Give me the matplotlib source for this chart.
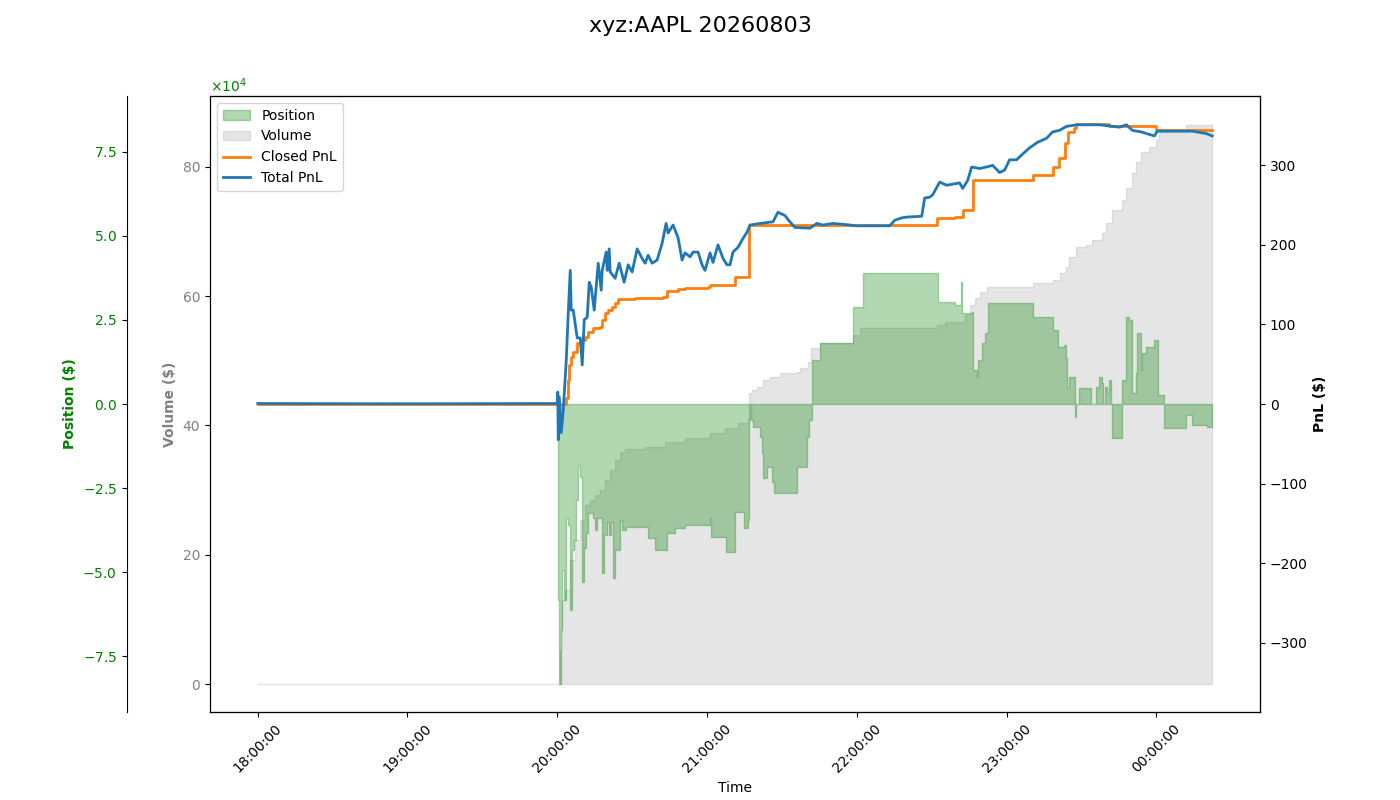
"""
PnL / position / volume overview for a single trading session.
"""

import numpy as np
import pandas as pd
import matplotlib
matplotlib.use("Agg")
import matplotlib.pyplot as plt
import matplotlib.dates as mdates
from matplotlib.patches import Patch
from matplotlib.lines import Line2D

# --- DATA ---
SYMBOL = "xyz:AAPL"
SESSION_DATE = "20260803"
SESSION_START = "2026-08-03 18:00:00"

# minutes since session start
pos_minutes = [
    0.0, 120.0, 120.4, 120.8, 121.6, 122.0, 122.8, 123.6, 124.4, 125.2, 126.0,
    126.8, 127.6, 128.4, 129.2, 130.0, 130.8, 131.6, 132.4, 134.4, 135.2, 136.0,
    138.0, 138.8, 140.0, 140.8, 141.6, 142.4, 143.2, 145.2, 146.0, 147.6, 156.4,
    159.2, 164.0, 167.2, 171.2, 181.2, 181.6, 187.6, 191.2, 194.8, 196.4, 196.8,
    197.2, 197.6, 198.4, 201.2, 202.0, 202.4, 204.0, 206.0, 206.8, 216.0, 220.0,
    220.8, 222.0, 225.2, 238.4, 242.4, 272.4, 279.2, 281.6, 282.0, 286.0, 286.4,
    288.0, 288.4, 290.0, 291.2, 292.4, 310.4, 318.4, 320.4, 323.2, 324.0, 324.4,
    325.2, 327.6, 328.0, 329.2, 334.0, 336.0, 337.2, 338.4, 338.8, 339.6, 340.4,
    341.2, 342.0, 342.4, 346.4, 348.0, 349.2, 350.4, 352.0, 352.4, 354.0, 354.4,
    356.0, 359.2, 360.8, 363.2, 372.0, 374.4, 380.4, 382.4,
]
pos_values = [
    0, 0, -58300, -83300, -67300, -49400, -58300, -33900, -36000, -61300, -43500,
    -40500, -28600, -18200, -21700, -53000, -42900, -38400, -32400, -33900, -37500, -33900,
    -50300, -39000, -35100, -39000, -35100, -51800, -43500, -34500, -37500, -36600, -39900,
    -43500, -38400, -36900, -36000, -33900, -39600, -44000, -32100, -36900, -34500, -4800,
    0, -4800, -6800, -9800, -14600, -22000, -18800, -23200, -26500, -18800, -9800,
    -4800, 13100, 18200, 28900, 39000, 30400, 29500, 36300, 27100, 27400, 10100,
    8000, 13100, 18200, 21100, 30100, 25900, 22000, 17000, 17600, 13700, 4800,
    8000, -3900, 0, 4800, 0, 5100, 8000, 6300, 0, 5100, 3300,
    7100, 0, -10100, 7100, 25900, 25000, 3300, 9200, 21100, 10100, 15200,
    17000, 19000, 2700, -7100, -3300, -6200, -6800, -6800,
]

vol_minutes = [
    0.0, 120.0, 121.2, 122.0, 123.2, 125.2, 127.2, 129.2, 131.2, 133.2, 135.2,
    137.2, 139.2, 141.2, 143.2, 145.2, 147.2, 155.2, 163.2, 171.2, 181.2, 187.2,
    192.4, 196.4, 196.8, 198.0, 200.0, 202.4, 205.2, 209.2, 216.0, 217.2, 220.4,
    221.6, 225.2, 238.4, 241.2, 272.0, 275.2, 283.2, 285.2, 287.2, 289.2, 292.0,
    310.4, 318.4, 321.2, 324.0, 325.2, 328.0, 332.0, 334.4, 338.4, 340.0, 342.4,
    346.4, 348.0, 350.4, 352.0, 354.0, 357.2, 360.0, 361.2, 372.0, 382.4,
]
vol_values = [
    0.0, 0.0, 5.3, 13.0, 14.5, 19.2, 22.3, 25.4, 27.7, 28.5, 29.2,
    30.0, 31.6, 33.1, 34.7, 35.9, 36.4, 36.7, 37.4, 38.1, 38.8, 39.6,
    40.4, 41.2, 45.0, 45.5, 46.0, 47.0, 47.5, 48.1, 48.3, 48.9, 49.8,
    52.0, 52.8, 54.0, 55.1, 55.6, 56.0, 57.1, 58.6, 59.7, 60.7, 61.4,
    62.0, 62.5, 63.6, 64.5, 66.1, 67.6, 67.9, 68.7, 69.8, 71.3, 73.3,
    74.9, 76.8, 79.1, 80.8, 82.3, 83.1, 84.2, 85.4, 86.5, 86.65,
]

closed_minutes = [
    0.0, 123.2, 123.6, 124.4, 124.8, 125.6, 126.4, 128.0, 130.0, 131.2, 132.4,
    134.4, 137.2, 138.0, 139.2, 140.4, 142.0, 143.2, 144.4, 151.2, 162.4, 164.0,
    168.4, 171.2, 180.4, 181.2, 191.2, 196.8, 272.0, 279.2, 282.4, 286.4, 310.4,
    318.4, 320.8, 323.6, 324.8, 327.2, 328.0, 341.2, 360.0, 382.4,
]
closed_pnl = [
    0, 0, 8, 30, 49, 59, 65, 77, 80, 84, 90,
    95, 97, 106, 114, 118, 122, 127, 132, 133, 134, 142,
    144, 146, 147, 150, 160, 225, 234, 235, 244, 281, 288,
    298, 309, 328, 342, 347, 352, 349, 345, 344,
]

total_minutes = [
    0.0, 57.2, 120.0, 120.2, 120.4, 120.8, 121.6, 122.4, 123.6, 124.4, 125.2,
    125.6, 126.4, 128.0, 129.2, 130.0, 130.8, 132.0, 132.8, 133.6, 134.8, 136.4,
    137.6, 138.0, 139.6, 140.0, 140.8, 141.2, 143.2, 144.8, 146.8, 148.4, 150.0,
    152.0, 154.0, 155.2, 156.4, 158.0, 160.0, 162.0, 163.6, 164.4, 166.4, 168.4,
    170.0, 171.2, 173.2, 174.4, 176.4, 178.0, 179.2, 181.2, 182.4, 184.4, 186.4,
    188.0, 189.2, 190.4, 192.4, 194.0, 196.0, 197.2, 201.2, 206.4, 208.4, 211.2,
    213.2, 215.2, 221.2, 224.0, 226.4, 230.4, 234.4, 240.0, 253.2, 255.2, 258.0,
    260.0, 266.0, 267.2, 269.2, 270.4, 273.2, 276.0, 281.2, 282.4, 284.4, 286.0,
    289.2, 292.0, 294.4, 297.2, 299.2, 301.2, 304.0, 306.0, 309.2, 312.4, 316.0,
    318.4, 321.2, 324.0, 328.0, 337.2, 345.2, 348.0, 350.4, 354.0, 356.0, 359.2,
    360.4, 374.4, 380.0, 382.4,
]
total_pnl = [
    0.6, 0.3, 0.6, 15, -45, 9, -36, -8, 55, 114, 168,
    118, 118, 83, 83, 49, 106, 109, 153, 147, 118, 177,
    143, 168, 191, 168, 195, 166, 158, 177, 153, 175, 166,
    195, 183, 177, 187, 177, 181, 202, 227, 215, 225, 209,
    181, 190, 185, 191, 191, 175, 168, 190, 178, 200, 183,
    175, 175, 191, 197, 206, 216, 225, 227, 229, 241, 237,
    229, 222, 221, 227, 225, 227, 226, 224, 224, 231, 234,
    235, 236, 259, 260, 263, 279, 275, 278, 271, 281, 298,
    296, 298, 300, 291, 294, 307, 307, 313, 322, 329, 334,
    342, 344, 349, 351, 351, 348, 351, 344, 342, 340, 337,
    343, 343, 340, 337,
]


def to_times(minutes):
    start = pd.Timestamp(SESSION_START)
    return (start + pd.to_timedelta(minutes, unit="min")).to_numpy()


def plot_session():
    pos_t = to_times(pos_minutes)
    vol_t = to_times(vol_minutes)
    closed_t = to_times(closed_minutes)
    total_t = to_times(total_minutes)

    fig, ax_vol = plt.subplots(figsize=(14, 8))
    fig.subplots_adjust(left=0.15, right=0.9, top=0.88, bottom=0.11)

    ax_pos = ax_vol.twinx()
    ax_pnl = ax_vol.twinx()

    # position axis sits further out on the left
    ax_pos.spines["left"].set_position(("outward", 60))
    ax_pos.spines["left"].set_visible(True)
    ax_pos.yaxis.set_ticks_position("left")
    ax_pos.yaxis.set_label_position("left")

    # volume (cumulative, $)
    ax_vol.fill_between(vol_t, 0, vol_values, step="post", color="gray", alpha=0.2)
    ax_vol.set_ylabel("Volume ($)", color="gray", fontweight="bold")
    ax_vol.tick_params(axis="y", labelcolor="gray")

    # position
    ax_pos.fill_between(pos_t, 0, pos_values, step="post", color="green", alpha=0.3)
    lim = 1.1 * np.max(np.abs(pos_values))
    ax_pos.set_ylim(-lim, lim)
    ax_pos.ticklabel_format(axis="y", style="sci", scilimits=(0, 0), useMathText=True)
    ax_pos.set_ylabel("Position ($)", color="green", fontweight="bold")
    ax_pos.tick_params(axis="y", labelcolor="green")

    # pnl
    ax_pnl.plot(closed_t, closed_pnl, color="tab:orange", linewidth=2, drawstyle="steps-post")
    ax_pnl.plot(total_t, total_pnl, color="tab:blue", linewidth=2)
    lim = 1.1 * max(np.max(np.abs(closed_pnl)), np.max(np.abs(total_pnl)))
    ax_pnl.set_ylim(-lim, lim)
    ax_pnl.set_ylabel("PnL ($)", fontweight="bold")

    ax_vol.xaxis.set_major_locator(mdates.HourLocator())
    ax_vol.xaxis.set_major_formatter(mdates.DateFormatter("%H:%M:%S"))
    ax_vol.tick_params(axis="x", rotation=45)
    ax_vol.set_xlabel("Time")

    handles = [
        Patch(facecolor="green", edgecolor="green", alpha=0.3),
        Patch(facecolor="gray", edgecolor="gray", alpha=0.2),
        Line2D([], [], color="tab:orange", linewidth=2),
        Line2D([], [], color="tab:blue", linewidth=2),
    ]
    labels = ["Position", "Volume", "Closed PnL", "Total PnL"]
    ax_pnl.legend(handles, labels, loc="upper left")

    fig.suptitle(f"{SYMBOL} {SESSION_DATE}", fontsize=16)
    fig.savefig("out.png", dpi=100)


if __name__ == "__main__":
    plot_session()
